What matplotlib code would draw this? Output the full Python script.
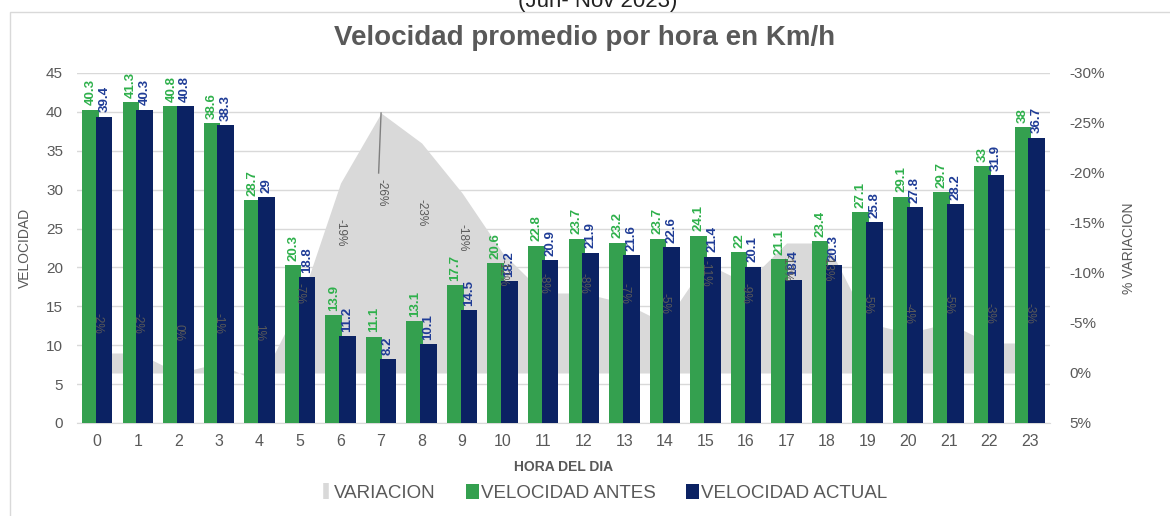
import matplotlib
matplotlib.use('Agg')
import matplotlib.pyplot as plt
from matplotlib.patches import Patch, Rectangle
from matplotlib.lines import Line2D

# ---------------- data ----------------
hours = list(range(24))
hour_labels = [str(h) for h in hours]
vel_antes = [40.3, 41.3, 40.8, 38.6, 28.7, 20.3, 13.9, 11.1, 13.1, 17.7, 20.6, 22.8,
             23.7, 23.2, 23.7, 24.1, 22, 21.1, 23.4, 27.1, 29.1, 29.7, 33, 38]
vel_antes_lbl = ['40.3', '41.3', '40.8', '38.6', '28.7', '20.3', '13.9', '11.1', '13.1', '17.7', '20.6', '22.8',
                 '23.7', '23.2', '23.7', '24.1', '22', '21.1', '23.4', '27.1', '29.1', '29.7', '33', '38']
vel_actual = [39.4, 40.3, 40.8, 38.3, 29, 18.8, 11.2, 8.2, 10.1, 14.5, 18.2, 20.9,
              21.9, 21.6, 22.6, 21.4, 20.1, 18.4, 20.3, 25.8, 27.8, 28.2, 31.9, 36.7]
vel_actual_lbl = ['39.4', '40.3', '40.8', '38.3', '29', '18.8', '11.2', '8.2', '10.1', '14.5', '18.2', '20.9',
                  '21.9', '21.6', '22.6', '21.4', '20.1', '18.4', '20.3', '25.8', '27.8', '28.2', '31.9', '36.7']
variacion = [-2, -2, 0, -1, 1, -7, -19, -26, -23, -18, -12, -8,
             -8, -7, -5, -11, -9, -13, -13, -5, -4, -5, -3, -3]
left_ticks = [0, 5, 10, 15, 20, 25, 30, 35, 40, 45]
right_ticks = [5, 0, -5, -10, -15, -20, -25, -30]

# label positions for the variation labels (layout, in right-axis units)
var_label_y = [-5, -5, -4, -5, -4, -8, -14, -18, -16, -13.5, -10, -9,
               -9, -8, -7, -10, -8, -10.5, -10.5, -7, -6, -7, -6, -6]

# ---------------- style ----------------
GREEN = '#34A04F'
NAVY = '#0B2263'
GREEN_TXT = '#2EB04B'
NAVY_TXT = '#1F3C96'
GRAY_AREA = '#D9D9D9'
TXT = '#595959'
NARROW = ['Liberation Sans Narrow', 'Liberation Sans', 'DejaVu Sans']
REG = ['Liberation Sans', 'DejaVu Sans']

fig = plt.figure(figsize=(11.7, 5.16), dpi=100)
fig.patch.set_facecolor('white')
ax = fig.add_axes([77 / 1170, 1 - 423 / 516, (1050 - 77) / 1170, 350 / 516])
ax2 = ax.twinx()
ax3 = ax.twinx()

# base axis: grid
ax.set_ylim(0, 45)
ax.set_xlim(-0.5, 23.5)
ax.set_yticks(left_ticks)
ax.set_yticklabels([str(t) for t in left_ticks], family=REG, fontsize=11, color=TXT)
ax.yaxis.grid(True, color='#D9D9D9', lw=1)
ax.set_axisbelow(True)
ax.tick_params(axis='both', length=0)
ax.tick_params(axis='y', pad=10)
for s in ['top', 'left', 'right']:
    ax.spines[s].set_visible(False)
ax.spines['bottom'].set_color('#D9D9D9')
ax.set_xticks(hours)
ax.set_xticklabels(hour_labels, family=NARROW, fontsize=11.5, color=TXT)
ax.tick_params(axis='x', pad=8)
ax.set_ylabel('VELOCIDAD', family=NARROW, fontsize=10, color=TXT, labelpad=10)
ax.set_xlabel('HORA DEL DIA', family=NARROW, fontsize=10, color=TXT, fontweight='bold', labelpad=8)

# area axis (right scale, inverted)
ax2.set_ylim(5, -30)
ax2.fill_between(hours, variacion, 0, color=GRAY_AREA, lw=0)
ax2.set_yticks(right_ticks)
ax2.set_yticklabels([f'{t}%' for t in right_ticks], family=REG, fontsize=11, color=TXT)
ax2.tick_params(axis='y', length=0, pad=14)
for s in ax2.spines.values():
    s.set_visible(False)
ax2.set_ylabel('% VARIACION', family=NARROW, fontsize=10, color=TXT, labelpad=12)

# bars axis
ax3.set_ylim(0, 45)
ax3.set_yticks([])
for s in ax3.spines.values():
    s.set_visible(False)
ax3.patch.set_visible(False)
w = 0.41
off = 0.17
xa = [h - off for h in hours]
xb = [h + off for h in hours]
ax3.bar(xa, vel_antes, width=w, color=GREEN, zorder=2)
ax3.bar(xb, vel_actual, width=w, color=NAVY, zorder=3)
for x, v, t in zip(xa, vel_antes, vel_antes_lbl):
    ax3.annotate(t, (x, v), xytext=(0, 3), textcoords='offset points', rotation=90,
                 ha='center', va='bottom', family=NARROW, fontsize=9.5, fontweight='bold',
                 color=GREEN_TXT, zorder=5)
for x, v, t in zip(xb, vel_actual, vel_actual_lbl):
    ax3.annotate(t, (x, v), xytext=(0, 3), textcoords='offset points', rotation=90,
                 ha='center', va='bottom', family=NARROW, fontsize=9.5, fontweight='bold',
                 color=NAVY_TXT, zorder=5)

# variation labels (drawn over bars, using right-axis scale)
for h, v, y in zip(hours, variacion, var_label_y):
    ax3.text(h, y, f'{v}%', transform=ax2.transData, rotation=-90, ha='center', va='center',
             family=NARROW, fontsize=8.5, color=TXT, zorder=6)
# leader line for the peak label
i_peak = variacion.index(min(variacion))
ax3.plot([i_peak, i_peak - 0.06], [variacion[i_peak], var_label_y[i_peak] - 2.0],
         transform=ax2.transData, color='#7F7F7F', lw=1, zorder=4)

# title and cropped subtitle
fig.text(0.5, 1 - 38 / 516, 'Velocidad promedio por hora en Km/h', ha='center', va='center',
         family=NARROW, fontsize=20, fontweight='bold', color=TXT)
fig.text(598 / 1170, 1 - 7 / 516, '(Jun- Nov 2023)', ha='center', va='baseline',
         family=REG, fontsize=16, color='#222222')

# chart border
fig.add_artist(Rectangle((10 / 1170, -0.05), 1.2, 1 - 12 / 516 + 0.05, transform=fig.transFigure,
                         fill=False, edgecolor='#D9D9D9', lw=1))

# legend
handles = [Line2D([], [], marker='|', color=GRAY_AREA, markersize=12, mew=4, ls='none'),
           Patch(facecolor=GREEN), Patch(facecolor=NAVY)]
labels = ['VARIACION', 'VELOCIDAD ANTES', 'VELOCIDAD ACTUAL']
leg = fig.legend(handles, labels, loc='center', bbox_to_anchor=(603 / 1170, 1 - 493 / 516), ncol=3,
                 frameon=False, prop={'family': NARROW, 'size': 13.5}, handlelength=0.7,
                 handleheight=0.8, handletextpad=0.1, columnspacing=1.6)
for t in leg.get_texts():
    t.set_color(TXT)

fig.savefig('out.png', dpi=100, facecolor='white')
